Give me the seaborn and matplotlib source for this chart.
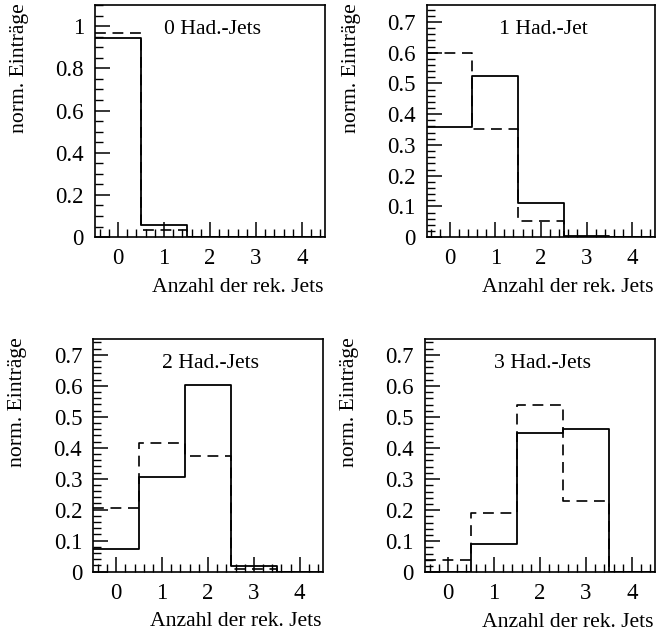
import numpy as np
import pandas as pd
import matplotlib
matplotlib.use("Agg")
import matplotlib.pyplot as plt
from matplotlib.ticker import MultipleLocator, FuncFormatter
import seaborn as sns

# ---- data ----
n_jets = [0, 1, 2, 3, 4]
panel_titles = ["0 Had.-Jets", "1 Had.-Jet", "2 Had.-Jets", "3 Had.-Jets"]
solid_vals = [
    [0.944, 0.056, 0.0, 0.0, 0.0],
    [0.358, 0.524, 0.112, 0.004, 0.0],
    [0.073, 0.304, 0.601, 0.019, 0.0],
    [0.0, 0.090, 0.450, 0.462, 0.0],
]
dashed_vals = [
    [0.968, 0.032, 0.0, 0.0, 0.0],
    [0.599, 0.351, 0.052, 0.0, 0.0],
    [0.207, 0.415, 0.374, 0.009, 0.0],
    [0.040, 0.192, 0.539, 0.231, 0.0],
]
y_max = [1.1, 0.755, 0.75, 0.75]
y_major = [0.2, 0.1, 0.1, 0.1]
y_minor = [0.05, 0.02, 0.02, 0.02]
x_label = "Anzahl der rek. Jets"
y_label = "norm. Einträge"

sns.set_theme(style="white")
plt.rcParams["font.family"] = ["Liberation Serif", "DejaVu Serif"]
plt.rcParams["axes.edgecolor"] = "black"
plt.rcParams["axes.linewidth"] = 1.2

fig = plt.figure(figsize=(6.59, 6.34), dpi=100)
positions = [
    [0.1442, 0.626, 0.349, 0.366],
    [0.6475, 0.626, 0.3465, 0.366],
    [0.1416, 0.0983, 0.348, 0.3666],
    [0.645, 0.0973, 0.349, 0.3675],
]
fs = 15.6
tfs = 16.5

for i in range(4):
    ax = fig.add_axes(positions[i])
    df = pd.DataFrame({
        "n": n_jets * 2,
        "w": solid_vals[i] + dashed_vals[i],
        "sample": ["solid"] * 5 + ["dashed"] * 5,
    })
    sns.histplot(data=df[df["sample"] == "dashed"], x="n", weights="w",
                 binwidth=1, binrange=(-0.5, 4.5), element="step", fill=False,
                 color="black", linestyle=(0, (6.5, 4)), linewidth=1.2, ax=ax)
    sns.histplot(data=df[df["sample"] == "solid"], x="n", weights="w",
                 binwidth=1, binrange=(-0.5, 4.5), element="step", fill=False,
                 color="black", linewidth=1.3, ax=ax)
    ax.set_xlim(-0.5, 4.5)
    ax.set_ylim(0, y_max[i])
    ax.xaxis.set_major_locator(MultipleLocator(1))
    ax.xaxis.set_minor_locator(MultipleLocator(0.2))
    ax.yaxis.set_major_locator(MultipleLocator(y_major[i]))
    ax.yaxis.set_minor_locator(MultipleLocator(y_minor[i]))
    ax.yaxis.set_major_formatter(FuncFormatter(lambda v, p: f"{v:g}"))
    ax.tick_params(axis="both", which="both", direction="in",
                   top=False, right=False, left=True, bottom=True,
                   color="black", labelsize=tfs, labelcolor="black")
    ax.tick_params(axis="both", which="major", length=11, width=1.1, pad=8)
    ax.tick_params(axis="both", which="minor", length=5.5, width=1.0)
    for s in ax.spines.values():
        s.set_visible(True)
        s.set_color("black")
    ax.set_xlabel(x_label, fontsize=fs, color="black")
    ax.xaxis.set_label_coords(0.995, -0.215)
    ax.xaxis.label.set(ha="right", va="center")
    ax.set_ylabel(y_label, fontsize=fs, color="black")
    ax.yaxis.set_label_coords(-0.33, 1.01)
    ax.yaxis.label.set(ha="center", va="top", rotation_mode="default")
    ax.text(0.51, 0.895, panel_titles[i], transform=ax.transAxes,
            ha="center", va="center", fontsize=fs, color="black")

fig.savefig("out.png", dpi=100, facecolor="white")
